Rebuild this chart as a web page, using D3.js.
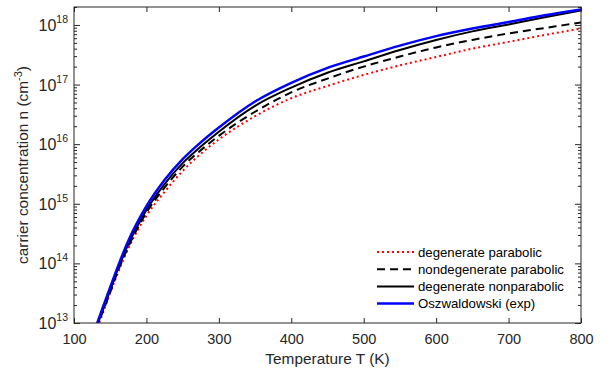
<!DOCTYPE html>
<html>
<head>
<meta charset="utf-8">
<script src="https://cdn.jsdelivr.net/npm/d3@7"></script>
<style>
  body { margin: 0; background: #fff; }
  svg { font-family: "Liberation Sans", Arial, sans-serif; }
</style>
</head>
<body>
<div id="chartbox"></div>
<script>
const WIDTH = 616
const HEIGHT = 373
const box = { left: 74, right: 581, top: 7, bottom: 323 }
const INK = '#262626'

// temperature grid (K)
const temps = [130, 140, 150, 160, 175, 200, 225, 250, 275, 300, 350, 400, 450, 500, 550, 600, 650, 700, 750, 800]

// carrier concentration n (cm^-3)
const degParabolic = [7.1e12, 1.48e13, 3.2e13, 6.6e13, 1.78e14, 6.3e14, 1.58e15, 3.55e15, 6.9e15, 1.2e16,
  2.95e16, 5.9e16, 9.5e16, 1.45e17, 2.1e17, 2.9e17, 4.0e17, 5.2e17, 6.8e17, 8.7e17]
const nondegParabolic = [7.6e12, 1.58e13, 3.3e13, 7.1e13, 1.9e14, 7.1e14, 1.86e15, 4.2e15, 7.9e15, 1.38e16,
  3.5e16, 7.4e16, 1.26e17, 2.0e17, 2.95e17, 4.2e17, 5.6e17, 7.2e17, 8.9e17, 1.1e18]
const degNonparabolic = [7.9e12, 1.66e13, 3.55e13, 7.6e13, 2.1e14, 7.9e14, 2.14e15, 4.8e15, 9.1e15, 1.62e16,
  4.4e16, 8.9e16, 1.58e17, 2.45e17, 3.8e17, 5.6e17, 7.8e17, 1.02e18, 1.35e18, 1.74e18]
const oszwaldowski = [8.5e12, 1.86e13, 4.0e13, 8.5e13, 2.4e14, 9.1e14, 2.5e15, 5.6e15, 1.07e16, 1.9e16,
  5.2e16, 1.07e17, 1.9e17, 2.95e17, 4.5e17, 6.5e17, 8.7e17, 1.12e18, 1.45e18, 1.82e18]

const xTicks = [100, 200, 300, 400, 500, 600, 700, 800]
const yExps = [13, 14, 15, 16, 17, 18]

const series = [
  { name: 'degenerate parabolic', values: degParabolic, color: '#ff0000', width: 2, dash: '2,3' },
  { name: 'nondegenerate parabolic', values: nondegParabolic, color: '#000000', width: 2, dash: '8,5' },
  { name: 'degenerate nonparabolic', values: degNonparabolic, color: '#000000', width: 2, dash: null },
  { name: 'Oszwaldowski (exp)', values: oszwaldowski, color: '#0000ff', width: 2.5, dash: null },
]

const x = d3.scaleLinear().domain([100, 800]).range([box.left, box.right])
const y = d3.scaleLog().domain([1e13, 2e18]).range([box.bottom, box.top])

const svg = d3.select('#chartbox')
  .append('svg')
  .attr('width', WIDTH)
  .attr('height', HEIGHT)

svg.append('clipPath')
  .attr('id', 'clip')
  .append('rect')
  .attr('x', box.left)
  .attr('y', box.top)
  .attr('width', box.right - box.left)
  .attr('height', box.bottom - box.top)

// curves
const line = d3.line()
  .x((d, i) => x(temps[i]))
  .y(d => y(d))
  .curve(d3.curveMonotoneX)

svg.append('g')
  .attr('clip-path', 'url(#clip)')
  .selectAll('path')
  .data(series)
  .enter()
  .append('path')
  .attr('d', d => line(d.values))
  .attr('fill', 'none')
  .attr('stroke', d => d.color)
  .attr('stroke-width', d => d.width)
  .attr('stroke-dasharray', d => d.dash)

// axes
const minors = []
yExps.forEach(e => {
  for (let k = 2; k <= 9; k++) {
    const v = k * Math.pow(10, e)
    if (v <= 2e18) minors.push(v)
  }
})
const decades = yExps.map(e => Math.pow(10, e))

const styleAxis = g => {
  g.select('.domain').remove()
  g.selectAll('line').attr('stroke', INK)
}

svg.append('g')
  .attr('transform', `translate(0,${box.bottom})`)
  .call(d3.axisBottom(x).tickValues(xTicks).tickSize(-5).tickPadding(10))
  .call(styleAxis)
  .call(g => g.selectAll('text')
    .attr('fill', INK)
    .style('font-size', '14.5px')
    .attr('dy', '0.75em'))

svg.append('g')
  .attr('transform', `translate(0,${box.top})`)
  .call(d3.axisTop(x).tickValues(xTicks).tickSize(-5).tickFormat(''))
  .call(styleAxis)

const yLeft = svg.append('g')
  .attr('transform', `translate(${box.left},0)`)
yLeft.append('g')
  .call(d3.axisLeft(y).tickValues(decades).tickSize(-6).tickFormat(''))
  .call(styleAxis)
yLeft.append('g')
  .call(d3.axisLeft(y).tickValues(minors).tickSize(-3).tickFormat(''))
  .call(styleAxis)

const yRight = svg.append('g')
  .attr('transform', `translate(${box.right},0)`)
yRight.append('g')
  .call(d3.axisRight(y).tickValues(decades).tickSize(-6).tickFormat(''))
  .call(styleAxis)
yRight.append('g')
  .call(d3.axisRight(y).tickValues(minors).tickSize(-3).tickFormat(''))
  .call(styleAxis)

// y tick labels 10^n
const ylab = svg.append('g')
  .selectAll('text')
  .data(yExps)
  .enter()
  .append('text')
  .attr('x', box.left - 6)
  .attr('y', d => y(Math.pow(10, d)) + 6)
  .attr('text-anchor', 'end')
  .attr('fill', INK)
  .style('font-size', '16px')
ylab.append('tspan').text('10')
ylab.append('tspan')
  .attr('dy', -8)
  .style('font-size', '10.5px')
  .text(d => d)

// frame
svg.append('rect')
  .attr('x', box.left)
  .attr('y', box.top)
  .attr('width', box.right - box.left)
  .attr('height', box.bottom - box.top)
  .attr('fill', 'none')
  .attr('stroke', INK)
  .attr('stroke-width', 1)

// axis titles
svg.append('text')
  .attr('x', (box.left + box.right) / 2)
  .attr('y', 364)
  .attr('text-anchor', 'middle')
  .attr('fill', INK)
  .style('font-size', '15.4px')
  .text('Temperature T (K)')

const ytitle = svg.append('text')
  .attr('transform', `translate(28,${(box.top + box.bottom) / 2}) rotate(-90)`)
  .attr('text-anchor', 'middle')
  .attr('fill', INK)
  .style('font-size', '15.4px')
ytitle.append('tspan').text('carrier concentration n (cm')
ytitle.append('tspan').attr('dy', -6).style('font-size', '11px').text('-3')
ytitle.append('tspan').attr('dy', 6).text(')')

// legend
const legend = svg.append('g')
  .attr('transform', 'translate(377,252)')

const items = legend.selectAll('g')
  .data(series)
  .enter()
  .append('g')
  .attr('transform', (d, i) => `translate(0,${i * 17.2})`)

items.append('line')
  .attr('x1', 0)
  .attr('x2', 37)
  .attr('stroke', d => d.color)
  .attr('stroke-width', d => d.width)
  .attr('stroke-dasharray', d => d.dash)

items.append('text')
  .attr('x', 41)
  .attr('y', 4.5)
  .attr('fill', '#000')
  .style('font-size', '13.2px')
  .text(d => d.name)
</script>
</body>
</html>
